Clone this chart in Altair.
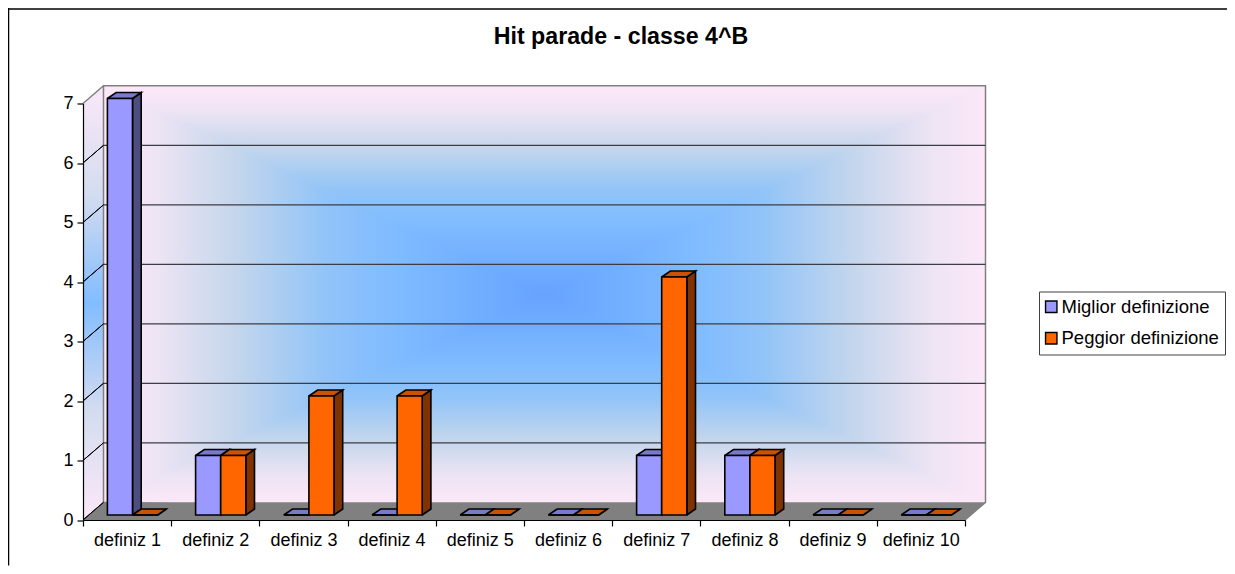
import json
import altair as alt
import pandas as pd

categories = ["definiz 1", "definiz 2", "definiz 3", "definiz 4", "definiz 5",
              "definiz 6", "definiz 7", "definiz 8", "definiz 9", "definiz 10"]
miglior = [7, 1, 0, 0, 0, 0, 1, 1, 0, 0]
peggior = [0, 1, 2, 2, 0, 0, 4, 1, 0, 0]
series_names = ["Miglior definizione", "Peggior definizione"]
y_ticks = [0, 1, 2, 3, 4, 5, 6, 7]
title_text = "Hit parade - classe 4^B"

FONT = "Liberation Sans"
PW, PH = 882, 416.5
XS = alt.Scale(domain=[0, 10], nice=False, zero=False)
YS = alt.Scale(domain=[0, 7], nice=False, zero=False)

XAX = alt.Axis(
    values=list(range(11)), grid=False, title=None, domainColor="#000000", domainWidth=1.2,
    tickColor="#000000", tickSize=6, tickWidth=1.2, labelFont=FONT, labelFontSize=18, labelColor="#000000",
    labelExpr=f"{json.dumps(categories)}[datum.value] || ''",
    labelOffset=44, labelAlign="center", labelBaseline="top", labelPadding=5,
    labelOverlap=False, labelFlush=False, zindex=1)
YAX = alt.Axis(
    values=y_ticks, grid=False, title=None, domainColor="#000000", domainWidth=1.2,
    tickColor="#000000", tickSize=6, tickWidth=1.2, labelFont=FONT, labelFontSize=18, labelColor="#000000",
    labelPadding=4, labelOverlap=False, labelFlush=False, format="d", zindex=1)

# depth of the box, in category / value units
WDX, WDY = 20.5 / 88.2, 17.7 / 59.5
# bar geometry inside a category
BOFF, BW = 24.4 / 88.2, 25.1 / 88.2
BDX, BDY = 8.7 / 88.2, 6.0 / 59.5
BASE = 5.0 / 59.5

def poly(points, close=True):
    pts = list(points) + ([points[0]] if close else [])
    return pd.DataFrame([{"x": x, "y": y, "i": i} for i, (x, y) in enumerate(pts)])

def polys(list_of_points):
    frames = []
    for k, p in enumerate(list_of_points):
        d = poly(p)
        d["k"] = k
        frames.append(d)
    return pd.concat(frames, ignore_index=True)

def shape(data, **mark):
    return alt.Chart(data).mark_line(**mark).encode(
        x=alt.X("x:Q", scale=XS, axis=XAX),
        y=alt.Y("y:Q", scale=YS, axis=YAX),
        order="i:Q",
        detail="k:N",
    )

def grad(stops, vertical=True, reverse=False):
    s = [{"offset": o, "color": c} for o, c in stops]
    g = {"gradient": "linear", "stops": s, "x1": 0, "y1": 0, "x2": 0, "y2": 0}
    if vertical:
        g["y1"], g["y2"] = (1, 0) if reverse else (0, 1)
    else:
        g["x1"], g["x2"] = (1, 0) if reverse else (0, 1)
    return g

EDGE_TO_CENTER = [(0, "#fbe8f8"), (0.12, "#eee4f4"), (0.3, "#c4d6ec"),
                  (0.5, "#92c4f8"), (0.65, "#80bcff"), (1, "#66a3ff")]

L, R, B, T = WDX, 10 + WDX, WDY, 7 + WDY
CX, CY = (L + R) / 2, (B + T) / 2

def tri(points, **g):
    gr = grad(EDGE_TO_CENTER, **g)
    return shape(polys([points]), fill=gr, stroke=gr, strokeWidth=1)

tri_top = tri([(L, T), (R, T), (CX, CY)])
tri_bot = tri([(L, B), (R, B), (CX, CY)], reverse=True)
tri_lft = tri([(L, T), (L, B), (CX, CY)], vertical=False)
tri_rgt = tri([(R, T), (R, B), (CX, CY)], vertical=False, reverse=True)

wall_left = shape(
    polys([[(0, 0), (0, 7), (L, T), (L, B)]]),
    fill=grad([(0, "#fbe8f8"), (0.25, "#d4dcf0"), (0.5, "#82bcff"), (0.75, "#d4dcf0"), (1, "#fbe8f8")]),
    strokeOpacity=0,
)
floor = shape(polys([[(0, 0), (10, 0), (R, B), (L, B)]]), fill="#808080", strokeOpacity=0)
frame = shape(polys([[(L, B), (L, T), (R, T), (R, B), (10, 0)]]), stroke="#808080", strokeWidth=1.5)
frame2 = shape(polys([[(0, 7), (L, T)]]), stroke="#808080", strokeWidth=1.5)

grid_df = pd.DataFrame({"v": y_ticks[1:-1]})
grid = alt.Chart(grid_df).transform_calculate(
    y=f"datum.v + {WDY}", x1=f"{L}", x2=f"{R}"
).mark_rule(color="#3c3c46", strokeWidth=1.3).encode(
    x=alt.X("x1:Q", scale=XS, axis=XAX), x2="x2:Q", y=alt.Y("y:Q", scale=YS, axis=YAX)
)
slants = shape(polys([[(0, v), (L, v + WDY)] for v in y_ticks[:-1]]), stroke="#000000", strokeWidth=1)

def faces(values, s):
    xo = BOFF + s * BW
    tops, sides = [], []
    for c, v in enumerate(values):
        x0, x1, y0, y1 = c + xo, c + xo + BW, BASE, BASE + v
        tops.append([(x0, y1), (x1, y1), (x1 + BDX, y1 + BDY), (x0 + BDX, y1 + BDY)])
        sides.append([(x1, y0), (x1 + BDX, y0 + BDY), (x1 + BDX, y1 + BDY), (x1, y1)])
    return polys(tops), polys(sides)

STROKE = dict(stroke="#000000", strokeWidth=1.6, strokeJoin="miter")
t0, s0 = faces(miglior, 0)
t1, s1 = faces(peggior, 1)
layers3d = [
    shape(s0, fill="#4d4d80", **STROKE),
    shape(t0, fill="#7a7acc", **STROKE),
    shape(s1, fill="#803300", **STROKE),
    shape(t1, fill="#cc5200", **STROKE),
]

rows = []
for c, name in enumerate(categories):
    for s, vals in enumerate([miglior, peggior]):
        x0 = c + BOFF + s * BW
        rows.append({"cat": name, "series": series_names[s], "value": vals[c],
                     "x0": x0, "x1": x0 + BW, "y0": BASE, "y1": BASE + vals[c]})
bars = alt.Chart(pd.DataFrame(rows)).mark_bar(stroke="#000000", strokeWidth=1.6, opacity=1).encode(
    x=alt.X("x0:Q", scale=XS, axis=XAX),
    x2="x1:Q",
    y=alt.Y("y0:Q", scale=YS, axis=YAX),
    y2="y1:Q",
    color=alt.Color("series:N",
                    scale=alt.Scale(domain=series_names, range=["#9999ff", "#ff6600"]),
                    legend=alt.Legend(
                        title=None, orient="none", legendX=956, legendY=188,
                        fillColor="#ffffff", strokeColor="#404040", padding=6,
                        symbolType="square", symbolSize=130, symbolStrokeColor="#000000",
                        symbolStrokeWidth=1.4, symbolOffset=-3, labelFont=FONT, labelFontSize=18.5,
                        labelColor="#000000", rowPadding=12.5, labelOffset=1,
                        labelLimit=400)),
)

border = [
    alt.Chart(pd.DataFrame({"a": [0]})).mark_rule(color="#404040", strokeWidth=2).encode(
        x=alt.value(-75), x2=alt.value(1144), y=alt.value(-94.5)),
    alt.Chart(pd.DataFrame({"a": [0]})).mark_rule(color="#000000", strokeWidth=1.5).encode(
        x=alt.value(-74.5), y=alt.value(-95.5), y2=alt.value(462)),
]

chart = alt.layer(
    *border, wall_left, tri_top, tri_bot, tri_lft, tri_rgt, floor, frame, frame2, grid, slants,
    *layers3d, bars,
).resolve_scale(x="shared", y="shared").properties(
    width=PW, height=PH,
    title=alt.TitleParams(title_text, font=FONT, fontSize=23.2, fontWeight="bold", color="#000000",
                          anchor="middle", dx=97, offset=-42),
    padding={"left": 75, "top": 95.5, "right": 262, "bottom": 46},
    autosize=alt.AutoSizeParams(type="none"),
    background="#ffffff",
).configure_view(stroke=None)

chart.save("out.html", embed_options={"renderer": "svg", "actions": False})
